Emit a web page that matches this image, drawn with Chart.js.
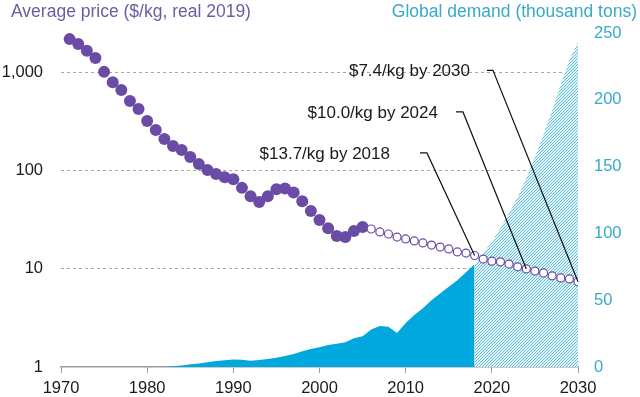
<!DOCTYPE html>
<html lang="en">
<head>
    <meta charset="UTF-8">
    <title>Price and demand</title>
    <script src="https://cdn.jsdelivr.net/npm/chart.js@4/dist/chart.umd.min.js"></script>
    <style>
        body {
            margin: 0;
            background-color: #fff;
        }

        #wrap {
            width: 640px;
            height: 397px;
            position: relative;
        }
    </style>
</head>
<body>
    <div id="wrap">
        <canvas id="priceChart"></canvas>
    </div>
    <script>
        // historical price, $/kg (real 2019)
        const histYears = [1971, 1972, 1973, 1974, 1975, 1976, 1977, 1978, 1979, 1980,
            1981, 1982, 1983, 1984, 1985, 1986, 1987, 1988, 1989, 1990,
            1991, 1992, 1993, 1994, 1995, 1996, 1997, 1998, 1999, 2000,
            2001, 2002, 2003, 2004, 2005];
        const histPrice = [2200, 1960, 1670, 1410, 1020, 800, 665, 515, 427, 322,
            261, 211, 179, 163, 138, 117, 102, 93, 86, 82,
            67, 55, 48, 55, 65, 66, 60, 49, 39, 31.5,
            26, 21.6, 21.1, 24.3, 26.7];

        // projected price
        const projYears = [2006, 2007, 2008, 2009, 2010, 2011, 2012, 2013, 2014, 2015,
            2016, 2017, 2018, 2019, 2020, 2021, 2022, 2023, 2024, 2025,
            2026, 2027, 2028, 2029, 2030];
        const projPrice = [25.5, 23.8, 22.7, 21.1, 20.2, 19.3, 18.4, 17.5, 16.7, 16.0,
            14.9, 14.5, 13.7, 12.6, 12.0, 11.8, 11.2, 10.5, 10.0, 9.5,
            9.1, 8.5, 8.1, 7.9, 7.4];

        // global demand, thousand tons
        const demandYears = [1970, 1971, 1972, 1973, 1974, 1975, 1976, 1977, 1978, 1979,
            1980, 1981, 1982, 1983, 1984, 1985, 1986, 1987, 1988, 1989,
            1990, 1991, 1992, 1993, 1994, 1995, 1996, 1997, 1998, 1999,
            2000, 2001, 2002, 2003, 2004, 2005, 2006, 2007, 2008, 2009,
            2010, 2011, 2012, 2013, 2014, 2015, 2016, 2017, 2018];
        const demand = [0, 0, 0, 0, 0, 0, 0, 0, 0, 0,
            0, 0, 0, 0.5, 1.2, 2.0, 2.7, 3.6, 4.4, 5.0,
            5.7, 5.5, 4.6, 5.2, 6.0, 7.0, 8.2, 9.8, 11.8, 13.5,
            14.7, 16.5, 17.4, 18.5, 21.5, 23, 28, 30.7, 30.2, 25.4,
            33, 39, 44, 50, 55, 60, 65, 71, 77];

        const demandProjYears = [2018, 2019, 2020, 2021, 2022, 2023, 2024, 2025, 2026, 2027, 2028, 2029, 2030];
        const demandProj = [77, 85, 94, 104, 115, 127, 141, 157, 174, 192, 211, 230, 243];

        const xTicks = [1970, 1980, 1990, 2000, 2010, 2020, 2030];
        const priceTicks = [1, 10, 100, 1000];

        // callouts: text, where the text ends, leader start/corner, and the point it points at
        const callouts = [
            { text: '$7.4/kg by 2030', tx: 2017.46, ty: 1041, lx: 2019.44, cx: 2020.13, ly: 1056, px: 2030, py: 7.4 },
            { text: '$10.0/kg by 2024', tx: 2013.75, ty: 388, lx: 2015.84, cx: 2016.65, ly: 398, px: 2024, py: 10.0 },
            { text: '$13.7/kg by 2018', tx: 2008.18, ty: 148, lx: 2011.66, cx: 2012.47, ly: 152, px: 2018, py: 13.7 }
        ];

        const purple = '#6a4ca6';
        const teal = '#38a9c8';
        const font = "'Liberation Sans', Arial, sans-serif";

        const pairs = (xs, ys) => xs.map((x, i) => ({ x: x, y: ys[i] }));

        // diagonal hatch for the forecast demand
        const hatchCanvas = document.createElement('canvas');
        hatchCanvas.width = 3;
        hatchCanvas.height = 3;
        const hctx = hatchCanvas.getContext('2d');
        hctx.fillStyle = '#e4f5fa';
        hctx.fillRect(0, 0, 3, 3);
        hctx.strokeStyle = '#5fbdd7';
        hctx.lineWidth = 1;
        hctx.beginPath();
        hctx.moveTo(-1, 4);
        hctx.lineTo(4, -1);
        hctx.moveTo(-1, 1);
        hctx.lineTo(1, -1);
        hctx.moveTo(2, 4);
        hctx.lineTo(4, 2);
        hctx.stroke();
        const hatch = hctx.createPattern(hatchCanvas, 'repeat');

        const extras = {
            id: 'extras',
            afterDatasetsDraw(chart) {
                const ctx = chart.ctx;
                const xs = chart.scales.x;
                const ys = chart.scales.y;
                ctx.save();
                ctx.font = '17px ' + font;
                ctx.textBaseline = 'middle';
                ctx.textAlign = 'right';
                callouts.forEach(c => {
                    ctx.fillStyle = '#1a1a1a';
                    ctx.fillText(c.text, xs.getPixelForValue(c.tx), ys.getPixelForValue(c.ty));
                    ctx.strokeStyle = '#111';
                    ctx.lineWidth = 1.2;
                    ctx.beginPath();
                    ctx.moveTo(xs.getPixelForValue(c.lx), ys.getPixelForValue(c.ly));
                    ctx.lineTo(xs.getPixelForValue(c.cx), ys.getPixelForValue(c.ly));
                    ctx.lineTo(xs.getPixelForValue(c.px), ys.getPixelForValue(c.py));
                    ctx.stroke();
                });
                ctx.restore();
            },
            afterDraw(chart) {
                const ctx = chart.ctx;
                ctx.save();
                ctx.font = '17.5px ' + font;
                ctx.textBaseline = 'middle';
                ctx.textAlign = 'left';
                ctx.fillStyle = '#6d5ca2';
                ctx.fillText('Average price ($/kg, real 2019)', 11, 12);
                ctx.textAlign = 'right';
                ctx.fillStyle = teal;
                ctx.fillText('Global demand (thousand tons)', 637, 12);
                ctx.restore();
            }
        };

        const ctx = document.getElementById('priceChart').getContext('2d');
        new Chart(ctx, {
            type: 'line',
            data: {
                datasets: [
                    {
                        label: 'Price',
                        data: pairs(histYears, histPrice),
                        yAxisID: 'y',
                        showLine: false,
                        pointRadius: 6,
                        pointBackgroundColor: purple,
                        pointBorderWidth: 0,
                        order: 1
                    },
                    {
                        label: 'Price forecast',
                        data: pairs(projYears, projPrice),
                        yAxisID: 'y',
                        showLine: false,
                        pointRadius: 4,
                        pointBackgroundColor: '#fff',
                        pointBorderColor: purple,
                        pointBorderWidth: 1.2,
                        order: 0
                    },
                    {
                        label: 'Demand',
                        data: pairs(demandYears, demand),
                        yAxisID: 'y2',
                        fill: 'origin',
                        backgroundColor: '#00a8dd',
                        borderWidth: 0,
                        pointRadius: 0,
                        order: 3
                    },
                    {
                        label: 'Demand forecast',
                        data: pairs(demandProjYears, demandProj),
                        yAxisID: 'y2',
                        fill: 'origin',
                        backgroundColor: hatch,
                        borderWidth: 0,
                        pointRadius: 0,
                        order: 2
                    }
                ]
            },
            options: {
                responsive: true,
                maintainAspectRatio: false,
                animation: false,
                layout: {
                    padding: { top: 33, left: 0, right: 0, bottom: 0 }
                },
                plugins: {
                    legend: { display: false },
                    tooltip: { enabled: false }
                },
                scales: {
                    x: {
                        type: 'linear',
                        min: 1970,
                        max: 2030,
                        afterFit: s => { s.height = 30; },
                        afterBuildTicks: s => { s.ticks = xTicks.map(v => ({ value: v })); },
                        grid: {
                            drawOnChartArea: false,
                            drawTicks: true,
                            tickLength: 6,
                            color: '#9a9a9a'
                        },
                        border: { color: '#9a9a9a', width: 1.5 },
                        ticks: {
                            padding: 6,
                            maxRotation: 0,
                            color: '#1a1a1a',
                            font: { family: font, size: 16.5 },
                            callback: v => String(v)
                        }
                    },
                    y: {
                        type: 'logarithmic',
                        position: 'left',
                        min: 1,
                        max: 2540,
                        afterFit: s => { s.width = 61; },
                        afterBuildTicks: s => { s.ticks = priceTicks.map(v => ({ value: v })); },
                        border: { display: false, dash: [3, 3] },
                        grid: {
                            drawTicks: false,
                            color: c => c.tick && c.tick.value === 1 ? 'rgba(0,0,0,0)' : '#a8a8a8'
                        },
                        ticks: {
                            padding: 18,
                            color: '#1a1a1a',
                            font: { family: font, size: 16.5 },
                            callback: v => Number(v).toLocaleString('en-US')
                        }
                    },
                    y2: {
                        type: 'linear',
                        position: 'right',
                        min: 0,
                        max: 250,
                        afterFit: s => { s.width = 62; },
                        border: { display: false },
                        grid: { display: false, drawTicks: false },
                        ticks: {
                            stepSize: 50,
                            padding: 16,
                            color: teal,
                            font: { family: font, size: 16.5 }
                        }
                    }
                }
            },
            plugins: [extras]
        });
    </script>
</body>
</html>
